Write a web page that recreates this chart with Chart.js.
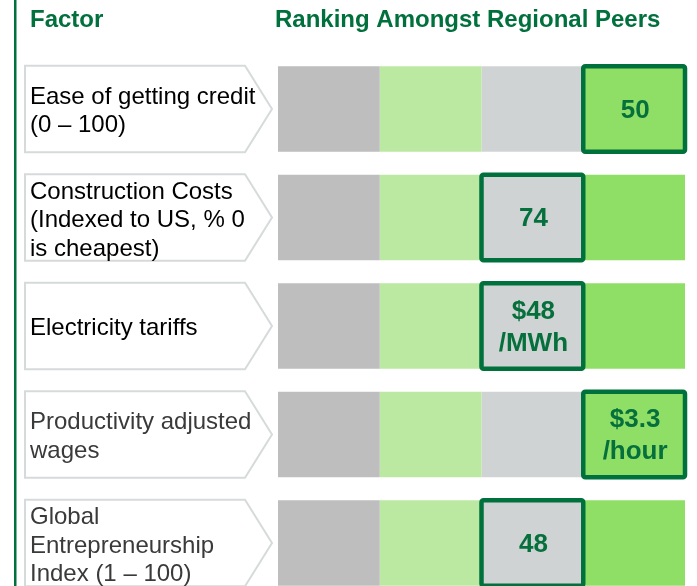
<!DOCTYPE html>
<html>
<head>
<meta charset="utf-8">
<script src="https://cdn.jsdelivr.net/npm/chart.js@4"></script>
<style>
  html, body { margin: 0; padding: 0; background: #ffffff; overflow: hidden; }
  #wrap { width: 697px; height: 610px; }
</style>
</head>
<body>
<div id="wrap"><canvas id="c" width="697" height="610"></canvas></div>
<script>
// ---- data ----
const headers = ["Factor", "Ranking Amongst Regional Peers"];
const factors = [
  "Ease of getting credit (0 – 100)",
  "Construction Costs (Indexed to US, % 0 is cheapest)",
  "Electricity tariffs",
  "Productivity adjusted wages",
  "Global Entrepreneurship Index (1 – 100)"
];
const factorLines = [
  ["Ease of getting credit", "(0 – 100)"],
  ["Construction Costs", "(Indexed to US, % 0", "is cheapest)"],
  ["Electricity tariffs"],
  ["Productivity adjusted", "wages"],
  ["Global", "Entrepreneurship", "Index (1 – 100)"]
];
const bands = ["Band 1", "Band 2", "Band 3", "Band 4"];
const band1 = [1, 1, 1, 1, 1];
const band2 = [1, 1, 1, 1, 1];
const band3 = [1, 1, 1, 1, 1];
const band4 = [1, 1, 1, 1, 1];
const rankBand = [3, 2, 2, 3, 2];
const valueLabels = [["50"], ["74"], ["$48", "/MWh"], ["$3.3", "/hour"], ["48"]];

// ---- styles ----
const bandColors = ["#bebebe", "#bbe9a1", "#d0d3d4", "#8fdf66"];
const darkGreen = "#00703c";
const labelColors = ["#000000", "#000000", "#000000", "#3a3a3a", "#3a3a3a"];
const FONT = "'Liberation Sans', Arial, sans-serif";

const decor = {
  id: "decor",
  beforeDraw(chart) {
    const ctx = chart.ctx;
    ctx.save();
    // left vertical rule
    ctx.fillStyle = darkGreen;
    ctx.fillRect(14, 0, 2.5, chart.height);
    // headers
    ctx.font = "bold 24px " + FONT;
    ctx.fillStyle = darkGreen;
    ctx.textBaseline = "alphabetic";
    ctx.textAlign = "left";
    ctx.fillText(headers[0], 30, 26.5);
    ctx.fillText(headers[1], 275, 26.5);
    // chevron label boxes
    const meta = chart.getDatasetMeta(0);
    meta.data.forEach((el, i) => {
      const p = el.getProps(["y", "height"], true);
      const top = p.y - p.height / 2 - 0.5;
      const bot = p.y + p.height / 2 + 0.5;
      ctx.beginPath();
      ctx.moveTo(25, top);
      ctx.lineTo(245, top);
      ctx.lineTo(272, p.y);
      ctx.lineTo(245, bot);
      ctx.lineTo(25, bot);
      ctx.closePath();
      ctx.fillStyle = "#ffffff";
      ctx.fill();
      ctx.lineWidth = 2;
      ctx.strokeStyle = "#d6dada";
      ctx.stroke();
      const lines = factorLines[i];
      ctx.font = "24px " + FONT;
      ctx.fillStyle = labelColors[i];
      ctx.textBaseline = "middle";
      const lh = 28.5;
      const shift = lines.length === 3 ? 3 : 2.5;
      lines.forEach((t, k) => {
        ctx.fillText(t, 30, p.y + shift + (k - (lines.length - 1) / 2) * lh);
      });
    });
    ctx.restore();
  },
  afterDatasetsDraw(chart) {
    const ctx = chart.ctx;
    ctx.save();
    rankBand.forEach((b, i) => {
      const el = chart.getDatasetMeta(b).data[i];
      const p = el.getProps(["x", "y", "base", "height"], true);
      const left = Math.min(p.x, p.base), right = Math.max(p.x, p.base);
      const top = p.y - p.height / 2, bot = p.y + p.height / 2;
      ctx.beginPath();
      ctx.roundRect(left, top, right - left, bot - top, 2);
      ctx.fillStyle = bandColors[b];
      ctx.fill();
      ctx.lineWidth = 4.5;
      ctx.strokeStyle = darkGreen;
      ctx.stroke();
      const lines = valueLabels[i];
      ctx.font = "bold 26px " + FONT;
      ctx.fillStyle = "#06703d";
      ctx.textAlign = "center";
      ctx.textBaseline = "middle";
      const lh = 32;
      lines.forEach((t, k) => {
        ctx.fillText(t, (left + right) / 2 + 1, p.y + 1.5 + (k - (lines.length - 1) / 2) * lh);
      });
    });
    ctx.restore();
  }
};

const series = [band1, band2, band3, band4];
new Chart(document.getElementById("c"), {
  type: "bar",
  data: {
    labels: factors,
    datasets: bands.map((name, j) => ({
      label: name,
      data: series[j],
      backgroundColor: bandColors[j],
      borderWidth: 0,
      barPercentage: 0.79,
      categoryPercentage: 1.0
    }))
  },
  options: {
    indexAxis: "y",
    responsive: false,
    devicePixelRatio: 1,
    animation: false,
    layout: { padding: { left: 278, right: 12, top: 54.75, bottom: 12.75 } },
    scales: {
      x: { stacked: true, min: 0, max: 4, display: false },
      y: { stacked: true, display: false }
    },
    plugins: { legend: { display: false }, tooltip: { enabled: false } }
  },
  plugins: [decor]
});
</script>
</body>
</html>
